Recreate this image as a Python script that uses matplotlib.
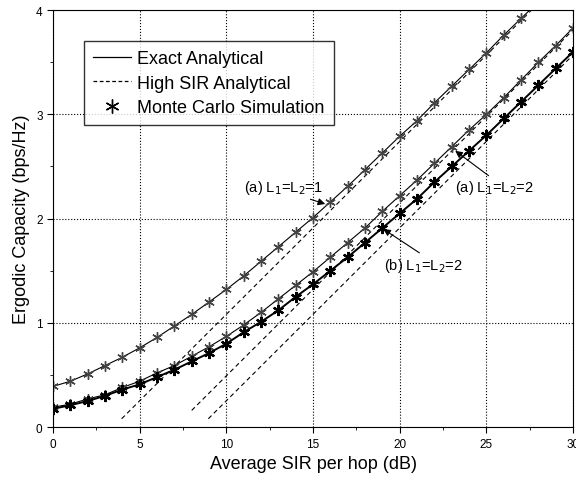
#-*-coding:utf-8-*-
import numpy as np
import matplotlib.pyplot as plt

plt.rcParams['font.family'] = ['Liberation Sans', 'DejaVu Sans']

# SIR per hop (dB)
snr = np.arange(0, 31)

# exact analytical / monte carlo
cap_a1 = [0.39, 0.44, 0.51, 0.59, 0.67, 0.76, 0.86, 0.97, 1.08, 1.20, 1.32,
          1.45, 1.59, 1.73, 1.87, 2.01, 2.16, 2.31, 2.47, 2.63, 2.79,
          2.94, 3.11, 3.27, 3.43, 3.59, 3.76, 3.92, 4.08, 4.25, 4.41]
cap_a2 = [0.19, 0.22, 0.27, 0.31, 0.38, 0.44, 0.52, 0.59, 0.68, 0.77, 0.87,
          0.98, 1.10, 1.23, 1.36, 1.49, 1.63, 1.77, 1.91, 2.07, 2.22,
          2.37, 2.53, 2.69, 2.85, 3.00, 3.16, 3.33, 3.50, 3.66, 3.83]
cap_b2 = [0.175, 0.21, 0.25, 0.30, 0.36, 0.41, 0.48, 0.55, 0.63, 0.71, 0.80,
          0.91, 1.01, 1.12, 1.25, 1.37, 1.50, 1.63, 1.77, 1.91, 2.05,
          2.19, 2.35, 2.50, 2.65, 2.80, 2.96, 3.12, 3.28, 3.44, 3.60]

# high SIR approximations (straight lines, end points)
hi_a1_x = [3.96, 27.6]
hi_a1_y = [0.08, 4.00]
hi_a2_x = [8.0, 30.0]
hi_a2_y = [0.16, 3.81]
hi_b2_x = [8.96, 30.0]
hi_b2_y = [0.08, 3.57]

star = (6, 2, 0)

fig = plt.figure(figsize=(5.76, 4.81), dpi=100)
ax = fig.add_axes([0.092, 0.11, 0.903, 0.867])

ax.plot(hi_a1_x, hi_a1_y, 'k--', lw=0.8, dashes=(4, 3))
ax.plot(hi_a2_x, hi_a2_y, 'k--', lw=0.8, dashes=(4, 3))
ax.plot(hi_b2_x, hi_b2_y, 'k--', lw=0.8, dashes=(4, 3))

ax.plot(snr, cap_a1, '-', color='k', lw=0.8, marker=star, ms=7.5, mec='#444444', mew=1.0)
ax.plot(snr, cap_a2, '-', color='k', lw=0.8, marker=star, ms=7.5, mec='#444444', mew=1.0)
ax.plot(snr, cap_b2, '-', color='k', lw=1.4, marker=star, ms=8, mec='k', mew=1.6)

# legend proxies
l1, = ax.plot([], [], 'k-', lw=0.9)
l2, = ax.plot([], [], 'k--', lw=0.9, dashes=(3, 2))
l3, = ax.plot([], [], ls='none', marker=star, ms=10, mec='k', mew=1.0)
leg = ax.legend([l1, l2, l3], ['Exact Analytical', 'High SIR Analytical', 'Monte Carlo Simulation'],
                loc='upper left', bbox_to_anchor=(0.06, 0.926), fontsize=13, frameon=True,
                fancybox=False, shadow=False, handlelength=2.1, handletextpad=0.35,
                borderpad=0.5, labelspacing=0.42, borderaxespad=0)
leg.get_frame().set_edgecolor('k')
leg.get_frame().set_linewidth(1.0)

ax.annotate('(a) L$_1$=L$_2$=1', xy=(15.7, 2.14), xytext=(11.0, 2.26), fontsize=10.5,
            arrowprops=dict(arrowstyle='-|>', color='k', lw=0.8, shrinkA=0, shrinkB=0,
                            relpos=(0.7, 0.05)))
ax.annotate('(a) L$_1$=L$_2$=2', xy=(23.2, 2.65), xytext=(23.2, 2.26), fontsize=10.5,
            arrowprops=dict(arrowstyle='-|>', color='k', lw=0.8, shrinkA=0, shrinkB=0,
                            relpos=(0.47, 1.0)))
ax.annotate('(b) L$_1$=L$_2$=2', xy=(19.05, 1.90), xytext=(19.1, 1.52), fontsize=10.5,
            arrowprops=dict(arrowstyle='-|>', color='k', lw=0.8, shrinkA=0, shrinkB=0,
                            relpos=(0.5, 1.0)))

ax.set_xlim(0, 30)
ax.set_ylim(0, 4)
ax.set_xticks([0, 5, 10, 15, 20, 25, 30])
ax.set_yticks([0, 1, 2, 3, 4])
ax.set_xticks(np.arange(2.5, 30, 5), minor=True)
ax.set_yticks(np.arange(0.5, 4, 1), minor=True)
ax.tick_params(which='both', direction='out', labelsize=8.5, top=False, right=False)
ax.tick_params(which='major', length=4)
ax.tick_params(which='minor', length=2.5)
ax.grid(True, which='major', ls=':', color='k', lw=0.8)
ax.set_xlabel('Average SIR per hop (dB)', fontsize=13)
ax.set_ylabel('Ergodic Capacity (bps/Hz)', fontsize=13)

plt.savefig('out.png', dpi=100)
